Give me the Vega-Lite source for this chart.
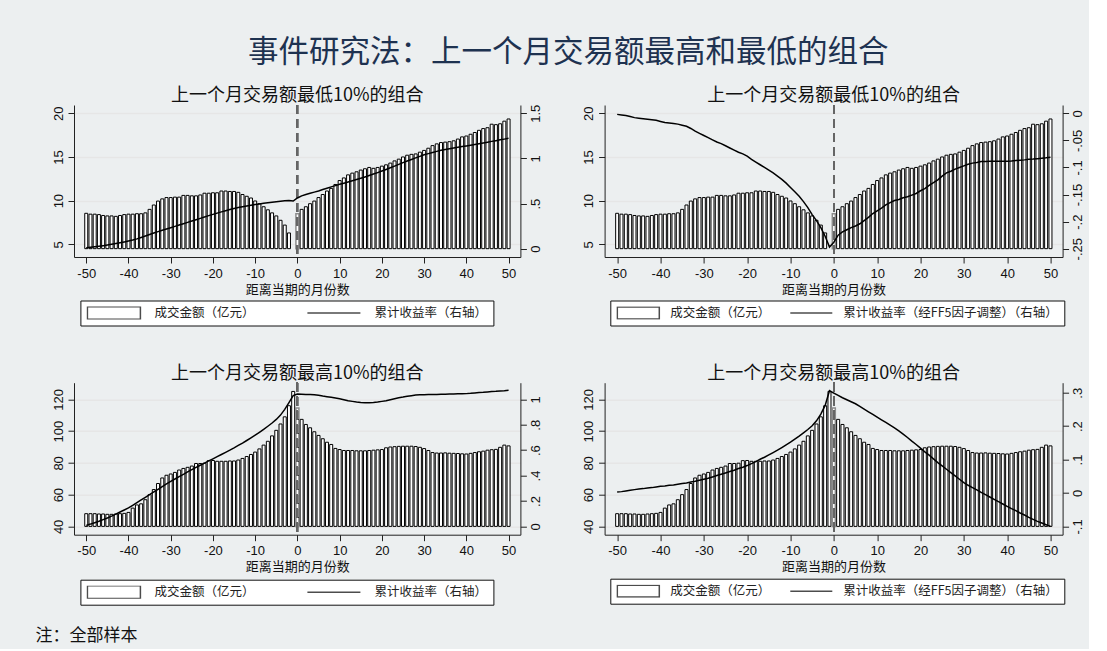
{
  "$schema": "https://vega.github.io/schema/vega-lite/v6.json",
  "background": "#eceff0",
  "padding": {"left": 35, "top": 37, "right": 4, "bottom": 4},
  "datasets": {
    "low": [
      {"t":-50,"amt":8.55,"ret":0.010,"ret5":-0.002},
      {"t":-49,"amt":8.45,"ret":0.015,"ret5":-0.003},
      {"t":-48,"amt":8.45,"ret":0.021,"ret5":-0.004},
      {"t":-47,"amt":8.4,"ret":0.027,"ret5":-0.006},
      {"t":-46,"amt":8.3,"ret":0.033,"ret5":-0.008},
      {"t":-45,"amt":8.25,"ret":0.040,"ret5":-0.009},
      {"t":-44,"amt":8.25,"ret":0.048,"ret5":-0.010},
      {"t":-43,"amt":8.2,"ret":0.057,"ret5":-0.011},
      {"t":-42,"amt":8.3,"ret":0.066,"ret5":-0.012},
      {"t":-41,"amt":8.4,"ret":0.075,"ret5":-0.013},
      {"t":-40,"amt":8.45,"ret":0.085,"ret5":-0.015},
      {"t":-39,"amt":8.45,"ret":0.096,"ret5":-0.017},
      {"t":-38,"amt":8.5,"ret":0.109,"ret5":-0.018},
      {"t":-37,"amt":8.5,"ret":0.124,"ret5":-0.019},
      {"t":-36,"amt":8.6,"ret":0.140,"ret5":-0.020},
      {"t":-35,"amt":9.0,"ret":0.157,"ret5":-0.022},
      {"t":-34,"amt":9.5,"ret":0.173,"ret5":-0.024},
      {"t":-33,"amt":9.95,"ret":0.189,"ret5":-0.028},
      {"t":-32,"amt":10.2,"ret":0.204,"ret5":-0.033},
      {"t":-31,"amt":10.35,"ret":0.219,"ret5":-0.037},
      {"t":-30,"amt":10.35,"ret":0.233,"ret5":-0.041},
      {"t":-29,"amt":10.4,"ret":0.247,"ret5":-0.045},
      {"t":-28,"amt":10.4,"ret":0.262,"ret5":-0.049},
      {"t":-27,"amt":10.6,"ret":0.277,"ret5":-0.053},
      {"t":-26,"amt":10.6,"ret":0.292,"ret5":-0.056},
      {"t":-25,"amt":10.55,"ret":0.306,"ret5":-0.060},
      {"t":-24,"amt":10.55,"ret":0.321,"ret5":-0.064},
      {"t":-23,"amt":10.65,"ret":0.336,"ret5":-0.068},
      {"t":-22,"amt":10.85,"ret":0.351,"ret5":-0.072},
      {"t":-21,"amt":10.85,"ret":0.366,"ret5":-0.075},
      {"t":-20,"amt":10.9,"ret":0.380,"ret5":-0.079},
      {"t":-19,"amt":10.9,"ret":0.394,"ret5":-0.085},
      {"t":-18,"amt":11.1,"ret":0.408,"ret5":-0.090},
      {"t":-17,"amt":11.1,"ret":0.421,"ret5":-0.095},
      {"t":-16,"amt":11.05,"ret":0.434,"ret5":-0.100},
      {"t":-15,"amt":11.05,"ret":0.446,"ret5":-0.105},
      {"t":-14,"amt":10.95,"ret":0.456,"ret5":-0.110},
      {"t":-13,"amt":10.7,"ret":0.465,"ret5":-0.116},
      {"t":-12,"amt":10.5,"ret":0.473,"ret5":-0.122},
      {"t":-11,"amt":10.3,"ret":0.481,"ret5":-0.129},
      {"t":-10,"amt":9.96,"ret":0.489,"ret5":-0.137},
      {"t":-9,"amt":9.65,"ret":0.496,"ret5":-0.145},
      {"t":-8,"amt":9.3,"ret":0.503,"ret5":-0.153},
      {"t":-7,"amt":8.95,"ret":0.509,"ret5":-0.163},
      {"t":-6,"amt":8.6,"ret":0.515,"ret5":-0.174},
      {"t":-5,"amt":8.25,"ret":0.520,"ret5":-0.187},
      {"t":-4,"amt":7.75,"ret":0.525,"ret5":-0.198},
      {"t":-3,"amt":7.2,"ret":0.530,"ret5":-0.211},
      {"t":-2,"amt":6.3,"ret":0.534,"ret5":-0.227},
      {"t":-1,"amt":null,"ret":0.528,"ret5":-0.247},
      {"t":0,"amt":8.5,"ret":0.562,"ret5":-0.238},
      {"t":1,"amt":9.0,"ret":0.585,"ret5":-0.225},
      {"t":2,"amt":9.3,"ret":0.600,"ret5":-0.219},
      {"t":3,"amt":9.65,"ret":0.614,"ret5":-0.215},
      {"t":4,"amt":9.95,"ret":0.627,"ret5":-0.211},
      {"t":5,"amt":10.35,"ret":0.640,"ret5":-0.208},
      {"t":6,"amt":10.7,"ret":0.655,"ret5":-0.204},
      {"t":7,"amt":11.1,"ret":0.670,"ret5":-0.198},
      {"t":8,"amt":11.4,"ret":0.685,"ret5":-0.192},
      {"t":9,"amt":11.85,"ret":0.699,"ret5":-0.185},
      {"t":10,"amt":12.3,"ret":0.713,"ret5":-0.180},
      {"t":11,"amt":12.6,"ret":0.726,"ret5":-0.175},
      {"t":12,"amt":12.95,"ret":0.739,"ret5":-0.169},
      {"t":13,"amt":13.15,"ret":0.753,"ret5":-0.165},
      {"t":14,"amt":13.3,"ret":0.766,"ret5":-0.161},
      {"t":15,"amt":13.5,"ret":0.780,"ret5":-0.159},
      {"t":16,"amt":13.65,"ret":0.795,"ret5":-0.156},
      {"t":17,"amt":13.8,"ret":0.811,"ret5":-0.154},
      {"t":18,"amt":13.7,"ret":0.827,"ret5":-0.151},
      {"t":19,"amt":13.8,"ret":0.843,"ret5":-0.148},
      {"t":20,"amt":13.95,"ret":0.860,"ret5":-0.143},
      {"t":21,"amt":14.1,"ret":0.878,"ret5":-0.139},
      {"t":22,"amt":14.3,"ret":0.896,"ret5":-0.133},
      {"t":23,"amt":14.55,"ret":0.915,"ret5":-0.128},
      {"t":24,"amt":14.75,"ret":0.934,"ret5":-0.123},
      {"t":25,"amt":15.0,"ret":0.953,"ret5":-0.116},
      {"t":26,"amt":15.2,"ret":0.971,"ret5":-0.110},
      {"t":27,"amt":15.3,"ret":0.989,"ret5":-0.107},
      {"t":28,"amt":15.35,"ret":1.006,"ret5":-0.103},
      {"t":29,"amt":15.55,"ret":1.023,"ret5":-0.100},
      {"t":30,"amt":15.75,"ret":1.040,"ret5":-0.097},
      {"t":31,"amt":16.0,"ret":1.053,"ret5":-0.094},
      {"t":32,"amt":16.3,"ret":1.066,"ret5":-0.092},
      {"t":33,"amt":16.5,"ret":1.078,"ret5":-0.091},
      {"t":34,"amt":16.65,"ret":1.090,"ret5":-0.089},
      {"t":35,"amt":16.7,"ret":1.100,"ret5":-0.089},
      {"t":36,"amt":16.75,"ret":1.108,"ret5":-0.0885},
      {"t":37,"amt":16.85,"ret":1.116,"ret5":-0.0885},
      {"t":38,"amt":17.05,"ret":1.123,"ret5":-0.0887},
      {"t":39,"amt":17.3,"ret":1.131,"ret5":-0.0887},
      {"t":40,"amt":17.4,"ret":1.138,"ret5":-0.0885},
      {"t":41,"amt":17.6,"ret":1.146,"ret5":-0.0882},
      {"t":42,"amt":17.8,"ret":1.155,"ret5":-0.087},
      {"t":43,"amt":18.05,"ret":1.163,"ret5":-0.0865},
      {"t":44,"amt":18.25,"ret":1.172,"ret5":-0.086},
      {"t":45,"amt":18.35,"ret":1.180,"ret5":-0.085},
      {"t":46,"amt":18.75,"ret":1.189,"ret5":-0.0845},
      {"t":47,"amt":18.7,"ret":1.197,"ret5":-0.0838},
      {"t":48,"amt":18.8,"ret":1.206,"ret5":-0.083},
      {"t":49,"amt":19.1,"ret":1.214,"ret5":-0.0822},
      {"t":50,"amt":19.35,"ret":1.223,"ret5":-0.081}
    ],
    "high": [
      {"t":-50,"amt":48,"ret":0.008,"ret5":0.003},
      {"t":-49,"amt":48,"ret":0.018,"ret5":0.004},
      {"t":-48,"amt":48,"ret":0.029,"ret5":0.006},
      {"t":-47,"amt":47.8,"ret":0.040,"ret5":0.008},
      {"t":-46,"amt":47.8,"ret":0.053,"ret5":0.010},
      {"t":-45,"amt":47.6,"ret":0.066,"ret5":0.012},
      {"t":-44,"amt":47.6,"ret":0.081,"ret5":0.013},
      {"t":-43,"amt":47.8,"ret":0.097,"ret5":0.015},
      {"t":-42,"amt":48,"ret":0.113,"ret5":0.016},
      {"t":-41,"amt":48.2,"ret":0.129,"ret5":0.018},
      {"t":-40,"amt":48.8,"ret":0.145,"ret5":0.020},
      {"t":-39,"amt":51.5,"ret":0.166,"ret5":0.021},
      {"t":-38,"amt":53.5,"ret":0.187,"ret5":0.023},
      {"t":-37,"amt":54.2,"ret":0.208,"ret5":0.024},
      {"t":-36,"amt":56.8,"ret":0.229,"ret5":0.026},
      {"t":-35,"amt":60,"ret":0.250,"ret5":0.028},
      {"t":-34,"amt":63.2,"ret":0.271,"ret5":0.030},
      {"t":-33,"amt":67,"ret":0.292,"ret5":0.033},
      {"t":-32,"amt":70.5,"ret":0.313,"ret5":0.035},
      {"t":-31,"amt":72.2,"ret":0.334,"ret5":0.038},
      {"t":-30,"amt":73,"ret":0.355,"ret5":0.041},
      {"t":-29,"amt":74,"ret":0.373,"ret5":0.044},
      {"t":-28,"amt":75.5,"ret":0.392,"ret5":0.048},
      {"t":-27,"amt":76.5,"ret":0.410,"ret5":0.052},
      {"t":-26,"amt":77.2,"ret":0.429,"ret5":0.056},
      {"t":-25,"amt":78,"ret":0.447,"ret5":0.060},
      {"t":-24,"amt":79.6,"ret":0.464,"ret5":0.064},
      {"t":-23,"amt":79.6,"ret":0.481,"ret5":0.068},
      {"t":-22,"amt":79.8,"ret":0.498,"ret5":0.073},
      {"t":-21,"amt":81.4,"ret":0.515,"ret5":0.077},
      {"t":-20,"amt":81.5,"ret":0.532,"ret5":0.082},
      {"t":-19,"amt":81,"ret":0.549,"ret5":0.088},
      {"t":-18,"amt":81,"ret":0.566,"ret5":0.094},
      {"t":-17,"amt":81,"ret":0.583,"ret5":0.101},
      {"t":-16,"amt":81.2,"ret":0.600,"ret5":0.107},
      {"t":-15,"amt":81.2,"ret":0.618,"ret5":0.114},
      {"t":-14,"amt":81.8,"ret":0.637,"ret5":0.121},
      {"t":-13,"amt":82.8,"ret":0.656,"ret5":0.128},
      {"t":-12,"amt":84,"ret":0.676,"ret5":0.136},
      {"t":-11,"amt":85.3,"ret":0.697,"ret5":0.144},
      {"t":-10,"amt":86.8,"ret":0.718,"ret5":0.152},
      {"t":-9,"amt":88.8,"ret":0.740,"ret5":0.161},
      {"t":-8,"amt":91.2,"ret":0.763,"ret5":0.170},
      {"t":-7,"amt":93.6,"ret":0.788,"ret5":0.180},
      {"t":-6,"amt":97,"ret":0.814,"ret5":0.190},
      {"t":-5,"amt":100.5,"ret":0.842,"ret5":0.201},
      {"t":-4,"amt":104.5,"ret":0.876,"ret5":0.216},
      {"t":-3,"amt":109,"ret":0.921,"ret5":0.236},
      {"t":-2,"amt":116,"ret":0.974,"ret5":0.262},
      {"t":-1,"amt":125,"ret":1.029,"ret5":0.306},
      {"t":0,"amt":114.5,"ret":1.042,"ret5":0.299},
      {"t":1,"amt":107.4,"ret":1.041,"ret5":0.292},
      {"t":2,"amt":104.2,"ret":1.039,"ret5":0.285},
      {"t":3,"amt":102.1,"ret":1.038,"ret5":0.279},
      {"t":4,"amt":99.6,"ret":1.036,"ret5":0.273},
      {"t":5,"amt":97.3,"ret":1.032,"ret5":0.267},
      {"t":6,"amt":95.2,"ret":1.026,"ret5":0.259},
      {"t":7,"amt":93,"ret":1.021,"ret5":0.251},
      {"t":8,"amt":91.6,"ret":1.016,"ret5":0.243},
      {"t":9,"amt":89.1,"ret":1.011,"ret5":0.235},
      {"t":10,"amt":88.4,"ret":1.005,"ret5":0.227},
      {"t":11,"amt":87.8,"ret":0.997,"ret5":0.219},
      {"t":12,"amt":87.8,"ret":0.989,"ret5":0.211},
      {"t":13,"amt":87.8,"ret":0.984,"ret5":0.203},
      {"t":14,"amt":87.6,"ret":0.979,"ret5":0.195},
      {"t":15,"amt":87.6,"ret":0.976,"ret5":0.186},
      {"t":16,"amt":87.6,"ret":0.974,"ret5":0.176},
      {"t":17,"amt":87.8,"ret":0.974,"ret5":0.166},
      {"t":18,"amt":88,"ret":0.976,"ret5":0.155},
      {"t":19,"amt":88.2,"ret":0.979,"ret5":0.145},
      {"t":20,"amt":88.4,"ret":0.984,"ret5":0.134},
      {"t":21,"amt":89.5,"ret":0.989,"ret5":0.123},
      {"t":22,"amt":90,"ret":0.997,"ret5":0.113},
      {"t":23,"amt":90.2,"ret":1.005,"ret5":0.102},
      {"t":24,"amt":90.4,"ret":1.013,"ret5":0.091},
      {"t":25,"amt":90.5,"ret":1.018,"ret5":0.081},
      {"t":26,"amt":90.5,"ret":1.024,"ret5":0.071},
      {"t":27,"amt":90.5,"ret":1.029,"ret5":0.061},
      {"t":28,"amt":90.3,"ret":1.034,"ret5":0.051},
      {"t":29,"amt":89.8,"ret":1.037,"ret5":0.041},
      {"t":30,"amt":89,"ret":1.037,"ret5":0.031},
      {"t":31,"amt":87.8,"ret":1.038,"ret5":0.023},
      {"t":32,"amt":86.5,"ret":1.039,"ret5":0.016},
      {"t":33,"amt":86.2,"ret":1.039,"ret5":0.009},
      {"t":34,"amt":86.2,"ret":1.040,"ret5":0.002},
      {"t":35,"amt":86.3,"ret":1.041,"ret5":-0.005},
      {"t":36,"amt":86.1,"ret":1.042,"ret5":-0.012},
      {"t":37,"amt":86,"ret":1.043,"ret5":-0.019},
      {"t":38,"amt":85.9,"ret":1.044,"ret5":-0.026},
      {"t":39,"amt":85.7,"ret":1.044,"ret5":-0.033},
      {"t":40,"amt":85.6,"ret":1.045,"ret5":-0.040},
      {"t":41,"amt":86,"ret":1.047,"ret5":-0.047},
      {"t":42,"amt":86.5,"ret":1.050,"ret5":-0.053},
      {"t":43,"amt":87,"ret":1.053,"ret5":-0.060},
      {"t":44,"amt":87.4,"ret":1.055,"ret5":-0.066},
      {"t":45,"amt":88,"ret":1.058,"ret5":-0.073},
      {"t":46,"amt":88.3,"ret":1.061,"ret5":-0.079},
      {"t":47,"amt":88.5,"ret":1.063,"ret5":-0.085},
      {"t":48,"amt":89.8,"ret":1.066,"ret5":-0.090},
      {"t":49,"amt":91.2,"ret":1.068,"ret5":-0.095},
      {"t":50,"amt":90.7,"ret":1.071,"ret5":-0.100}
    ]
  },
  "title": {"text": "注：全部样本", "orient": "bottom", "anchor": "start", "font": "Noto Sans CJK SC", "fontSize": 17, "fontWeight": "normal", "color": "#111111", "offset": 23, "dx": -16.5},
  "resolve": {"scale": {"shape": "independent"}, "legend": {"shape": "independent"}},
  "vconcat": [
    {
      "title": {"text": "事件研究法：上一个月交易额最高和最低的组合", "anchor": "middle", "font": "Noto Sans CJK SC", "fontSize": 30.5, "fontWeight": "normal", "color": "#1e3250", "offset": 19},
      "columns": 2,
      "spacing": {"row": 125.7, "column": 83.6},
      "bounds": "flush",
      "resolve": {"scale": {"shape": "independent"}, "legend": {"shape": "independent"}},
      "concat": [
        {
          "width": 446.4, "height": 152,
          "title": {"text": "上一个月交易额最低10%的组合"},
          "data": {"name": "low"},
          "layer": [
            {
              "mark": {"type": "bar", "size": 3.0, "fill": "white"},
              "encoding": {
                "x": {"field": "t", "type": "quantitative", "scale": {"domain": [-52.9, 52.8], "nice": false, "zero": false, "padding": 0},
                      "axis": {"values": [-50,-40,-30,-20,-10,0,10,20,30,40,50], "title": "距离当期的月份数", "labelExpr": "toString(datum.value)"}},
                "y": {"field": "amt", "type": "quantitative", "scale": {"domain": [3.546, 20.95], "nice": false, "zero": false},
                      "axis": {"values": [5,10,15,20], "grid": true, "title": null, "labelAngle": -90}},
                "y2": {"datum": 4.5},
                "stroke": {"condition": {"test": "datum.t === 0", "value": "#8c8c8c"}, "value": "black"},
                "strokeWidth": {"condition": {"test": "datum.t === 0", "value": 1.5}, "value": 1}
              }
            },
            {"mark": {"type": "rule", "color": "#666666", "strokeWidth": 1.2, "strokeDash": [9, 5]}, "encoding": {"x": {"datum": 0}}},
            {
              "mark": {"type": "line", "color": "black", "strokeWidth": 1.5},
              "encoding": {
                "x": {"field": "t", "type": "quantitative"},
                "y": {"field": "ret", "type": "quantitative", "scale": {"domain": [-0.092, 1.592], "nice": false, "zero": false},
                      "axis": {"orient": "right", "values": [0, 0.5, 1, 1.5], "grid": false, "title": null, "labelAngle": -90, "labelExpr": "replace(toString(datum.value), '0.', '.')"}}
              }
            },
            {
              "data": {"values": [{"series": "成交金额（亿元）"}, {"series": "累计收益率（右轴）"}]},
              "mark": {"type": "point", "size": 0, "filled": true, "fill": "white", "stroke": "black", "strokeWidth": 1.2},
              "encoding": {
                "shape": {"field": "series", "type": "nominal",
                          "scale": {"domain": ["成交金额（亿元）", "累计收益率（右轴）"], "range": ["M-1,-0.24H1V0.24H-1Z", "M-1,0H1"]},
                          "legend": {"orient": "none", "legendX": 6.4, "legendY": 195.5, "symbolSize": 2809, "labelOffset": 13, "columnPadding": 51}}
              }
            }
          ],
          "resolve": {"scale": {"y": "independent"}}
        },
        {
          "width": 458, "height": 152,
          "title": {"text": "上一个月交易额最低10%的组合"},
          "data": {"name": "low"},
          "layer": [
            {
              "mark": {"type": "bar", "size": 3.0, "fill": "white"},
              "encoding": {
                "x": {"field": "t", "type": "quantitative", "scale": {"domain": [-52.9, 52.8], "nice": false, "zero": false, "padding": 0},
                      "axis": {"values": [-50,-40,-30,-20,-10,0,10,20,30,40,50], "title": "距离当期的月份数", "labelExpr": "toString(datum.value)"}},
                "y": {"field": "amt", "type": "quantitative", "scale": {"domain": [3.546, 20.95], "nice": false, "zero": false},
                      "axis": {"values": [5,10,15,20], "grid": true, "title": null, "labelAngle": -90}},
                "y2": {"datum": 4.5},
                "stroke": {"condition": {"test": "datum.t === 0", "value": "#8c8c8c"}, "value": "black"},
                "strokeWidth": {"condition": {"test": "datum.t === 0", "value": 1.5}, "value": 1}
              }
            },
            {"mark": {"type": "rule", "color": "#666666", "strokeWidth": 1.2, "strokeDash": [9, 5]}, "encoding": {"x": {"datum": 0}}},
            {
              "mark": {"type": "line", "color": "black", "strokeWidth": 1.5},
              "encoding": {
                "x": {"field": "t", "type": "quantitative"},
                "y": {"field": "ret5", "type": "quantitative", "scale": {"domain": [-0.2653, 0.0153], "nice": false, "zero": false},
                      "axis": {"orient": "right", "values": [0, -0.05, -0.1, -0.15, -0.2, -0.25], "grid": false, "title": null, "labelAngle": -90, "labelExpr": "replace(toString(datum.value), '0.', '.')"}}
              }
            },
            {
              "data": {"values": [{"series": "成交金额（亿元）"}, {"series": "累计收益率（经FF5因子调整）（右轴）"}]},
              "mark": {"type": "point", "size": 0, "filled": true, "fill": "white", "stroke": "black", "strokeWidth": 1.2},
              "encoding": {
                "shape": {"field": "series", "type": "nominal",
                          "scale": {"domain": ["成交金额（亿元）", "累计收益率（经FF5因子调整）（右轴）"], "range": ["M-1,-0.28H1V0.28H-1Z", "M-1,0H1"]},
                          "legend": {"orient": "none", "legendX": 5.7, "legendY": 195.5, "symbolSize": 1764, "labelOffset": 10, "columnPadding": 18}}
              }
            }
          ],
          "resolve": {"scale": {"y": "independent"}}
        },
        {
          "width": 446.4, "height": 152,
          "title": {"text": "上一个月交易额最高10%的组合"},
          "data": {"name": "high"},
          "layer": [
            {
              "mark": {"type": "bar", "size": 3.0, "fill": "white"},
              "encoding": {
                "x": {"field": "t", "type": "quantitative", "scale": {"domain": [-52.9, 52.8], "nice": false, "zero": false, "padding": 0},
                      "axis": {"values": [-50,-40,-30,-20,-10,0,10,20,30,40,50], "title": "距离当期的月份数", "labelExpr": "toString(datum.value)"}},
                "y": {"field": "amt", "type": "quantitative", "scale": {"domain": [34.76, 130.5], "nice": false, "zero": false},
                      "axis": {"values": [40,60,80,100,120], "grid": true, "title": null, "labelAngle": -90}},
                "y2": {"datum": 40},
                "stroke": {"condition": {"test": "datum.t === 0", "value": "#8c8c8c"}, "value": "black"},
                "strokeWidth": {"condition": {"test": "datum.t === 0", "value": 1.5}, "value": 1}
              }
            },
            {"mark": {"type": "rule", "color": "#666666", "strokeWidth": 1.2, "strokeDash": [9, 5]}, "encoding": {"x": {"datum": 0}}},
            {
              "mark": {"type": "line", "color": "black", "strokeWidth": 1.5},
              "encoding": {
                "x": {"field": "t", "type": "quantitative"},
                "y": {"field": "ret", "type": "quantitative", "scale": {"domain": [-0.0655, 1.131], "nice": false, "zero": false},
                      "axis": {"orient": "right", "values": [0, 0.2, 0.4, 0.6, 0.8, 1], "grid": false, "title": null, "labelAngle": -90, "labelExpr": "replace(toString(datum.value), '0.', '.')"}}
              }
            },
            {
              "data": {"values": [{"series": "成交金额（亿元）"}, {"series": "累计收益率（右轴）"}]},
              "mark": {"type": "point", "size": 0, "filled": true, "fill": "white", "stroke": "black", "strokeWidth": 1.2},
              "encoding": {
                "shape": {"field": "series", "type": "nominal",
                          "scale": {"domain": ["成交金额（亿元）", "累计收益率（右轴）"], "range": ["M-1,-0.24H1V0.24H-1Z", "M-1,0H1"]},
                          "legend": {"orient": "none", "legendX": 6.4, "legendY": 197, "symbolSize": 2809, "labelOffset": 13, "columnPadding": 51}}
              }
            }
          ],
          "resolve": {"scale": {"y": "independent"}}
        },
        {
          "width": 458, "height": 152,
          "title": {"text": "上一个月交易额最高10%的组合"},
          "data": {"name": "high"},
          "layer": [
            {
              "mark": {"type": "bar", "size": 3.0, "fill": "white"},
              "encoding": {
                "x": {"field": "t", "type": "quantitative", "scale": {"domain": [-52.9, 52.8], "nice": false, "zero": false, "padding": 0},
                      "axis": {"values": [-50,-40,-30,-20,-10,0,10,20,30,40,50], "title": "距离当期的月份数", "labelExpr": "toString(datum.value)"}},
                "y": {"field": "amt", "type": "quantitative", "scale": {"domain": [34.76, 130.5], "nice": false, "zero": false},
                      "axis": {"values": [40,60,80,100,120], "grid": true, "title": null, "labelAngle": -90}},
                "y2": {"datum": 40},
                "stroke": {"condition": {"test": "datum.t === 0", "value": "#8c8c8c"}, "value": "black"},
                "strokeWidth": {"condition": {"test": "datum.t === 0", "value": 1.5}, "value": 1}
              }
            },
            {"mark": {"type": "rule", "color": "#666666", "strokeWidth": 1.2, "strokeDash": [9, 5]}, "encoding": {"x": {"datum": 0}}},
            {
              "mark": {"type": "line", "color": "black", "strokeWidth": 1.5},
              "encoding": {
                "x": {"field": "t", "type": "quantitative"},
                "y": {"field": "ret5", "type": "quantitative", "scale": {"domain": [-0.1249, 0.330], "nice": false, "zero": false},
                      "axis": {"orient": "right", "values": [-0.1, 0, 0.1, 0.2, 0.3], "grid": false, "title": null, "labelAngle": -90, "labelExpr": "replace(toString(datum.value), '0.', '.')"}}
              }
            },
            {
              "data": {"values": [{"series": "成交金额（亿元）"}, {"series": "累计收益率（经FF5因子调整）（右轴）"}]},
              "mark": {"type": "point", "size": 0, "filled": true, "fill": "white", "stroke": "black", "strokeWidth": 1.2},
              "encoding": {
                "shape": {"field": "series", "type": "nominal",
                          "scale": {"domain": ["成交金额（亿元）", "累计收益率（经FF5因子调整）（右轴）"], "range": ["M-1,-0.28H1V0.28H-1Z", "M-1,0H1"]},
                          "legend": {"orient": "none", "legendX": 5.7, "legendY": 196, "symbolSize": 1764, "labelOffset": 10, "columnPadding": 18}}
              }
            }
          ],
          "resolve": {"scale": {"y": "independent"}}
        }
      ]
    }
  ],
  "config": {
    "view": {"fill": "white", "stroke": null},
    "axis": {
      "labelFont": "Liberation Sans", "labelFontSize": 13, "labelColor": "#111111",
      "domainColor": "#222222", "tickColor": "#222222", "tickSize": 6, "labelFlush": false,
      "titleFont": "Noto Sans CJK SC", "titleFontSize": 13, "titleFontWeight": "normal", "titleColor": "#111111", "titlePadding": 3,
      "gridColor": "#e6e6e6", "gridWidth": 1.5, "labelPadding": 3
    },
    "axisX": {"grid": false, "labelPadding": 4},
    "legend": {
      "direction": "horizontal", "title": null, "fillColor": "white", "strokeColor": "#111111", "padding": 6, "clipHeight": 13,
      "labelFont": "Noto Sans CJK SC", "labelFontSize": 12.5, "labelColor": "#222222", "labelLimit": 400
    },
    "title": {"font": "Noto Sans CJK SC", "fontSize": 18, "fontWeight": "normal", "color": "#111111", "anchor": "middle", "offset": -1}
  }
}
